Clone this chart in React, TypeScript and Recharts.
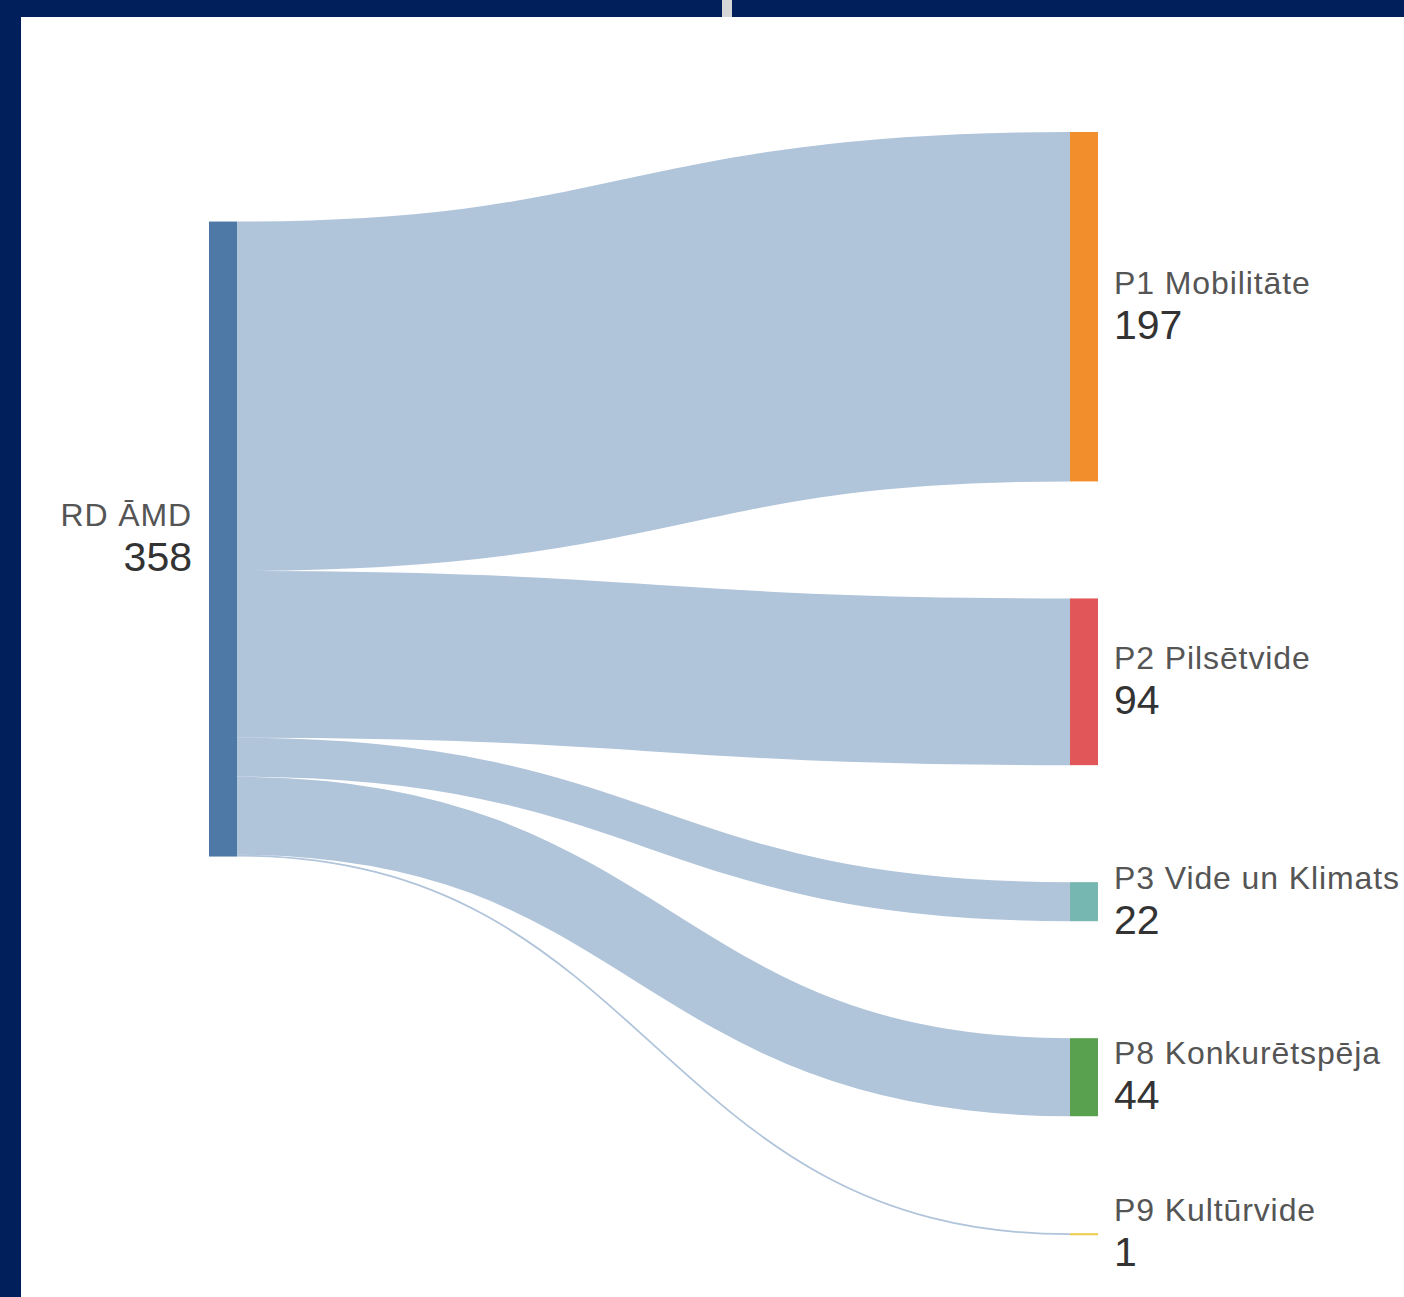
import React from 'react'
import { Sankey, Layer } from 'recharts'

// Nodes: first one is the source, the rest are targets
const nodeNames = ['RD ĀMD', 'P1 Mobilitāte', 'P2 Pilsētvide', 'P3 Vide un Klimats', 'P8 Konkurētspēja', 'P9 Kultūrvide']
const nodeColors = ['#4e79a7', '#f28e2b', '#e15759', '#76b7b2', '#59a14f', '#edc948']
const linkValues = [197, 94, 22, 44, 1]

const LINK_COLOR = '#b0c4da'
const NAVY = '#001f5b'
const FONT = '"Liberation Sans", Arial, sans-serif'

const sankeyData = {
  nodes: nodeNames.map(name => ({ name })),
  links: linkValues.map((value, i) => ({ source: 0, target: i + 1, value })),
}

const SankeyNode = (props: any) => {
  const { x, y, width, height, index, payload } = props
  const cy = y + height / 2
  const isSource = payload.depth === 0
  const tx = isSource ? x - 17 : x + width + 16
  const anchor = isSource ? 'end' : 'start'
  return (
    <Layer key={`node-${index}`}>
      <rect x={x} y={y} width={width} height={Math.max(height, 2)} fill={nodeColors[index]} />
      <text x={tx} y={cy - 13} textAnchor={anchor} fontSize={32} letterSpacing={0.9} fill="#555" fontFamily={FONT}>
        {payload.name}
      </text>
      <text x={tx} y={cy + 32} textAnchor={anchor} fontSize={41} fill="#333" fontFamily={FONT}>
        {payload.value}
      </text>
    </Layer>
  )
}

const SankeyLink = (props: any) => {
  const { sourceX, targetX, sourceY, targetY, sourceControlX, targetControlX, linkWidth, index } = props
  return (
    <path
      key={`link-${index}`}
      d={`M${sourceX},${sourceY} C${sourceControlX},${sourceY} ${targetControlX},${targetY} ${targetX},${targetY}`}
      fill="none"
      stroke={LINK_COLOR}
      strokeWidth={Math.max(linkWidth, 1)}
    />
  )
}

const App = () => {
  return (
    <div style={{ position: 'absolute', left: 0, top: 0, width: 1404, height: 1297, background: NAVY, overflow: 'hidden' }}>
      <div style={{ position: 'absolute', left: 21, top: 17, width: 1383, height: 1280, background: '#fff' }} />
      <div style={{ position: 'absolute', left: 722, top: 0, width: 10, height: 17, background: '#d6d6d6' }} />
      <div style={{ position: 'absolute', left: 0, top: 0 }}>
        <Sankey
          width={1404}
          height={1297}
          data={sankeyData}
          nodeWidth={28}
          nodePadding={117}
          iterations={32}
          sort={false}
          margin={{ left: 209, right: 306, top: 132, bottom: 62 }}
          node={<SankeyNode />}
          link={<SankeyLink />}
        />
      </div>
    </div>
  )
}

export default App
